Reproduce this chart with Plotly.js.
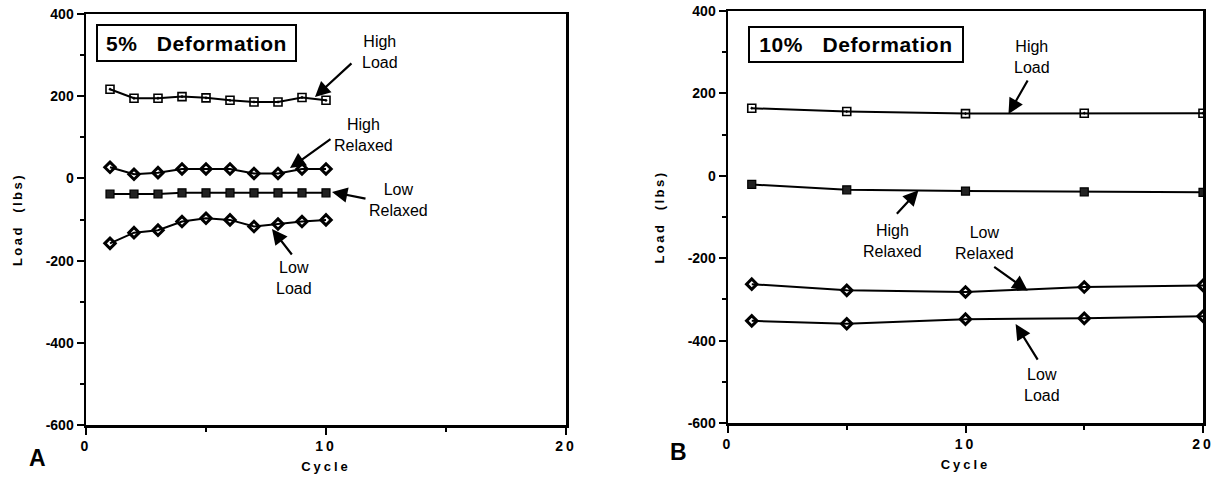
<!DOCTYPE html>
<html>
<head>
<meta charset="utf-8">
<script src="https://cdn.plot.ly/plotly-3.0.1.min.js"></script>
<style>
  html, body { margin: 0; padding: 0; background: #fff; }
  #chart { width: 1219px; height: 482px; }
</style>
</head>
<body>
<div id="chart"></div>
<script>
// ---- Data ----
const cyclesA = [1, 2, 3, 4, 5, 6, 7, 8, 9, 10];
const highLoadA = [217, 195, 195, 199, 196, 190, 186, 186, 197, 190];
const highRelaxedA = [27, 10, 14, 23, 23, 23, 12, 12, 23, 23];
const lowRelaxedA = [-38, -38, -38, -35, -35, -35, -35, -35, -35, -35];
const lowLoadA = [-158, -132, -126, -105, -97, -101, -117, -111, -105, -101];

const cyclesB = [1, 5, 10, 15, 20];
const highLoadB = [164, 156, 151, 152, 152];
const highRelaxedB = [-21, -34, -37, -39, -40];
const lowRelaxedB = [-263, -278, -282, -270, -266];
const lowLoadB = [-352, -359, -348, -346, -341];

const yTickVals = [-600, -400, -200, 0, 200, 400];
const yTickText = ['-600', '-400', '-200', '0', '200', '400'];
const xTickVals = [0, 10, 20];
const xTickText = ['0', '10', '20'];

const panelTitles = ['5%\u00a0\u00a0\u00a0Deformation', '10%\u00a0\u00a0\u00a0Deformation'];
const panelLetters = ['A', 'B'];

// ---- Styling ----
const FONT = 'Liberation Sans, Arial, Helvetica, sans-serif';
const W = 1219, H = 482;
const px = v => v / W;
const py = v => 1 - v / H;

const openSquare = { symbol: 'square-open-dot', size: 8, color: '#000', line: { width: 1.6, color: '#000' } };
const filledSquare = { symbol: 'square', size: 8, color: '#222', line: { width: 1.2, color: '#000' } };
const diamond = { symbol: 'diamond-open', size: 8, color: '#000', line: { width: 3, color: '#000' } };

const markerA = { 'High Load': openSquare, 'High Relaxed': diamond, 'Low Relaxed': filledSquare, 'Low Load': diamond };
const markerB = { 'High Load': openSquare, 'High Relaxed': filledSquare, 'Low Relaxed': diamond, 'Low Load': diamond };

function tr(x, y, name, xa, ya, mk) {
  return {
    x: x, y: y, name: name, xaxis: xa, yaxis: ya,
    type: 'scatter', mode: 'lines+markers',
    line: { color: '#000', width: 2 },
    marker: mk[name],
    showlegend: false, hoverinfo: 'x+y+name'
  };
}

const data = [
  tr(cyclesA, highLoadA, 'High Load', 'x', 'y', markerA),
  tr(cyclesA, highRelaxedA, 'High Relaxed', 'x', 'y', markerA),
  tr(cyclesA, lowRelaxedA, 'Low Relaxed', 'x', 'y', markerA),
  tr(cyclesA, lowLoadA, 'Low Load', 'x', 'y', markerA),
  tr(cyclesB, highLoadB, 'High Load', 'x2', 'y2', markerB),
  tr(cyclesB, highRelaxedB, 'High Relaxed', 'x2', 'y2', markerB),
  tr(cyclesB, lowRelaxedB, 'Low Relaxed', 'x2', 'y2', markerB),
  tr(cyclesB, lowLoadB, 'Low Load', 'x2', 'y2', markerB)
];

function xAxis(domain, anchor) {
  return {
    domain: domain, anchor: anchor, range: [0, 20],
    showgrid: false, zeroline: false,
    showline: true, mirror: true, linecolor: '#000', linewidth: 2.5,
    ticks: 'outside', ticklen: 7, tickwidth: 2, tickcolor: '#000',
    tickmode: 'array', tickvals: xTickVals, ticktext: xTickText,
    minor: { dtick: 5, ticks: 'outside', ticklen: 4, tickwidth: 2, tickcolor: '#000' },
    tickfont: { family: FONT, size: 14, color: '#000', weight: 'bold' },
    title: { text: 'Cycle', font: { family: FONT, size: 13, color: '#000', weight: 'bold' }, standoff: 9 }
  };
}
function yAxis(domain, anchor) {
  return {
    domain: domain, anchor: anchor, range: [-600, 400],
    showgrid: false, zeroline: false,
    showline: true, mirror: true, linecolor: '#000', linewidth: 2.5,
    ticks: 'outside', ticklen: 7, tickwidth: 2, tickcolor: '#000',
    tickmode: 'array', tickvals: yTickVals, ticktext: yTickText,
    minor: { dtick: 100, ticks: 'outside', ticklen: 4, tickwidth: 2, tickcolor: '#000' },
    tickfont: { family: FONT, size: 14, color: '#000', weight: 'bold' },
    title: { text: 'Load\u00a0\u00a0(lbs)', font: { family: FONT, size: 13, color: '#000', weight: 'bold' }, standoff: 20 }
  };
}

const lblFont = { family: FONT, size: 16, color: '#000' };
function label(xref, yref, x, y, text) {
  return { xref: xref, yref: yref, x: x, y: y, text: text, showarrow: false,
           font: lblFont, xanchor: 'center', yanchor: 'middle', align: 'center' };
}
function arrow(xref, yref, x, y, ax, ay) {
  return { xref: xref, yref: yref, x: x, y: y, ax: ax, ay: ay, text: '',
           showarrow: true, arrowhead: 2, arrowsize: 1.4, arrowwidth: 2.2, arrowcolor: '#000' };
}

const annotations = [
  // Panel A
  label('x', 'y', 12.25, 307, 'High<br>Load'),
  arrow('x', 'y', 9.54, 198, 38, -35),
  label('x', 'y', 11.55, 105, 'High<br>Relaxed'),
  arrow('x', 'y', 8.5, 25, 42, -30),
  label('x', 'y', 13.0, -52, 'Low<br>Relaxed'),
  arrow('x', 'y', 10.25, -33, 35, 7),
  label('x', 'y', 8.67, -242, 'Low<br>Load'),
  arrow('x', 'y', 7.75, -123, 21, 27),
  // Panel B
  label('x2', 'y2', 12.78, 289, 'High<br>Load'),
  arrow('x2', 'y2', 11.81, 150, 20, -35),
  label('x2', 'y2', 6.92, -158, 'High<br>Relaxed'),
  arrow('x2', 'y2', 8.02, -35, -23, 25),
  label('x2', 'y2', 10.8, -163, 'Low<br>Relaxed'),
  arrow('x2', 'y2', 12.62, -279, -35, -25),
  label('x2', 'y2', 13.2, -508, 'Low<br>Load'),
  arrow('x2', 'y2', 12.11, -360, 23, 37),
  // Title boxes
  { xref: 'paper', yref: 'paper', x: px(196.5), y: py(43), text: panelTitles[0], showarrow: false,
    xanchor: 'center', yanchor: 'middle', width: 197, height: 34, borderpad: 0,
    bordercolor: '#000', borderwidth: 2, bgcolor: '#fff',
    font: { family: FONT, size: 21, color: '#000', weight: 'bold' } },
  { xref: 'paper', yref: 'paper', x: px(856), y: py(44.5), text: panelTitles[1], showarrow: false,
    xanchor: 'center', yanchor: 'middle', width: 212, height: 33, borderpad: 0,
    bordercolor: '#000', borderwidth: 2, bgcolor: '#fff',
    font: { family: FONT, size: 21, color: '#000', weight: 'bold' } },
  // Panel letters
  { xref: 'paper', yref: 'paper', x: px(37), y: py(458), text: panelLetters[0], showarrow: false,
    xanchor: 'center', yanchor: 'middle', font: { family: FONT, size: 23, color: '#000', weight: 'bold' } },
  { xref: 'paper', yref: 'paper', x: px(678), y: py(452), text: panelLetters[1], showarrow: false,
    xanchor: 'center', yanchor: 'middle', font: { family: FONT, size: 23, color: '#000', weight: 'bold' } }
];

const layout = {
  width: W, height: H, autosize: false,
  margin: { l: 0, r: 0, t: 0, b: 0, pad: 0 },
  paper_bgcolor: '#fff', plot_bgcolor: '#fff',
  showlegend: false,
  font: { family: FONT, color: '#000' },
  xaxis: xAxis([px(86), px(566)], 'y'),
  yaxis: yAxis([py(425), py(14)], 'x'),
  xaxis2: xAxis([px(728), px(1203)], 'y2'),
  yaxis2: yAxis([py(423), py(11)], 'x2'),
  annotations: annotations
};

Plotly.newPlot('chart', data, layout, { staticPlot: true, displayModeBar: false }).then(function (gd) {
  // letter-spaced axis titles and x tick labels, as in the reference
  gd.querySelectorAll('text.xtitle, text.x2title').forEach(function (t) { t.style.letterSpacing = '3px'; });
  gd.querySelectorAll('text.ytitle, text.y2title').forEach(function (t) { t.style.letterSpacing = '2.5px'; });
  gd.querySelectorAll('.xtick text, .x2tick text').forEach(function (t) { t.style.letterSpacing = '3px'; });
  gd.querySelectorAll('.annotation-text').forEach(function (t) {
    if (/Deformation/.test(t.textContent)) t.style.letterSpacing = '0.6px';
  });
});
</script>
</body>
</html>
